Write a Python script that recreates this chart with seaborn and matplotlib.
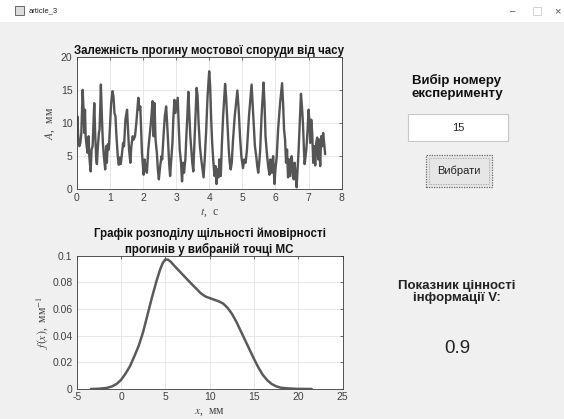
import matplotlib
matplotlib.use("Agg")
import matplotlib.pyplot as plt
import seaborn as sns
import pandas as pd
from matplotlib.patches import Rectangle

# ---- data ----
t_sec = [0.00, 0.02, 0.05, 0.08, 0.11, 0.14, 0.16, 0.18, 0.21, 0.23, 0.25, 0.27, 0.30, 0.33, 0.36, 0.38,
         0.42, 0.45, 0.48, 0.50, 0.53, 0.56, 0.59, 0.61, 0.64, 0.67, 0.69, 0.71, 0.73, 0.76, 0.79, 0.82,
         0.86, 0.89, 0.91, 0.94, 0.97, 1.00, 1.04, 1.08, 1.11, 1.14, 1.17, 1.20, 1.24, 1.27, 1.30, 1.33,
         1.37, 1.40, 1.43, 1.47, 1.52, 1.55, 1.58, 1.62, 1.65, 1.69, 1.72, 1.76, 1.80, 1.86, 1.89, 1.92,
         1.94, 1.97, 2.02, 2.05, 2.08, 2.12, 2.16, 2.20, 2.24, 2.29, 2.32, 2.35, 2.38, 2.42, 2.45, 2.48,
         2.52, 2.56, 2.58, 2.62, 2.66, 2.70, 2.73, 2.76, 2.79, 2.82, 2.86, 2.89, 2.92, 2.95, 2.98, 3.02,
         3.05, 3.08, 3.11, 3.15, 3.18, 3.21, 3.24, 3.28, 3.31, 3.34, 3.37, 3.40, 3.43, 3.46, 3.49, 3.52,
         3.55, 3.58, 3.62, 3.65, 3.68, 3.72, 3.76, 3.80, 3.83, 3.87, 3.91, 3.95, 4.00, 4.03, 4.06, 4.09,
         4.12, 4.16, 4.19, 4.22, 4.25, 4.28, 4.31, 4.35, 4.38, 4.42, 4.48, 4.51, 4.55, 4.59, 4.62, 4.65,
         4.68, 4.72, 4.77, 4.85, 4.89, 4.93, 4.97, 5.02, 5.06, 5.10, 5.14, 5.20, 5.28, 5.31, 5.35, 5.38,
         5.42, 5.45, 5.48, 5.51, 5.54, 5.58, 5.64, 5.67, 5.70, 5.74, 5.78, 5.82, 5.85, 5.89, 5.93, 5.97,
         6.00, 6.04, 6.08, 6.14, 6.20, 6.23, 6.26, 6.29, 6.32, 6.35, 6.38, 6.41, 6.45, 6.49, 6.52, 6.55,
         6.58, 6.61, 6.64, 6.67, 6.70, 6.74, 6.77, 6.80, 6.83, 6.86, 6.88, 6.91, 6.94, 6.97, 7.00, 7.03,
         7.05, 7.08, 7.11, 7.14, 7.17, 7.20, 7.23, 7.26, 7.29, 7.32, 7.35, 7.38, 7.41, 7.44, 7.47, 7.50]
deflection_mm = [8.5, 11.0, 7.5, 6.5, 7.0, 8.5, 12.0, 15.0, 11.5, 8.5, 12.0, 8.0, 6.5, 5.5, 8.0, 5.0,
                 2.7, 6.0, 6.5, 9.0, 13.0, 8.0, 4.5, 3.8, 6.5, 8.5, 9.0, 12.0, 15.8, 11.0, 7.0, 5.0,
                 3.0, 6.5, 4.0, 6.8, 6.0, 9.0, 13.0, 14.8, 14.0, 11.5, 11.0, 8.0, 5.0, 3.7, 4.8, 3.8,
                 5.5, 7.0, 6.5, 10.5, 12.0, 9.0, 6.0, 4.0, 6.5, 8.0, 7.5, 8.0, 10.0, 13.8, 12.0, 12.5,
                 9.5, 5.5, 2.2, 4.5, 3.0, 2.5, 6.0, 8.0, 10.0, 13.3, 8.0, 13.0, 7.5, 5.5, 3.0, 1.5,
                 3.5, 5.0, 4.5, 8.0, 11.0, 12.5, 10.0, 7.0, 4.0, 2.0, 5.0, 7.0, 11.0, 13.5, 11.5, 12.8,
                 13.8, 9.5, 6.0, 4.0, 1.2, 4.0, 2.5, 4.5, 8.0, 11.0, 14.7, 11.5, 8.0, 6.0, 4.0, 2.7,
                 6.5, 10.5, 15.3, 14.0, 10.0, 6.5, 4.5, 3.0, 1.8, 5.0, 9.0, 14.0, 17.8, 15.5, 10.5, 7.0,
                 4.5, 2.0, 3.5, 0.8, 3.0, 1.8, 4.5, 2.0, 6.5, 11.0, 15.9, 14.0, 10.0, 6.0, 4.0, 3.0,
                 4.0, 7.5, 11.0, 14.9, 12.0, 8.0, 5.0, 3.2, 4.5, 4.0, 6.0, 11.0, 15.8, 13.0, 9.0, 6.5,
                 5.0, 3.5, 2.5, 4.0, 6.0, 11.0, 16.1, 13.0, 8.0, 5.5, 3.5, 2.2, 4.5, 2.5, 5.0, 0.8,
                 3.0, 5.0, 9.0, 13.0, 16.0, 13.0, 9.0, 7.5, 4.0, 6.0, 1.8, 4.5, 2.0, 5.0, 3.0, 1.5,
                 4.0, 2.0, 0.3, 3.0, 6.0, 11.0, 14.4, 12.5, 10.0, 6.0, 3.8, 5.0, 6.5, 9.0, 12.0, 10.0,
                 7.0, 10.5, 8.5, 4.0, 6.5, 3.6, 7.0, 7.8, 4.5, 7.5, 3.5, 8.0, 6.5, 8.5, 7.0, 5.3]

x_mm = [-3.4, -2.5, -1.6, -1.0, -0.5, 0.0, 0.5, 1.0, 1.5, 2.0, 2.5, 3.0, 3.5, 4.0, 4.4, 4.7,
        5.0, 5.3, 5.6, 6.0, 6.5, 7.0, 7.5, 8.0, 8.5, 9.0, 9.5, 10.0, 10.5, 11.0, 11.5, 12.0,
        12.5, 13.0, 13.5, 14.0, 14.5, 15.0, 15.5, 16.0, 16.5, 17.0, 17.5, 18.0, 18.7, 19.8, 21.5]
fx = [0.0, 0.0002, 0.0008, 0.002, 0.0038, 0.0068, 0.0115, 0.017, 0.0245, 0.0325, 0.043, 0.056,
      0.069, 0.081, 0.0895, 0.0945, 0.0972, 0.0970, 0.0955, 0.0925, 0.089, 0.0855, 0.082, 0.0785,
      0.0752, 0.0718, 0.0695, 0.0682, 0.0670, 0.0658, 0.0642, 0.0610, 0.0565, 0.0505, 0.0435,
      0.0365, 0.0295, 0.0225, 0.0160, 0.0105, 0.0065, 0.0037, 0.0020, 0.0010, 0.0005, 0.0001, 0.0]

x_ticks_top = [0, 1, 2, 3, 4, 5, 6, 7, 8]
y_ticks_top = [0, 5, 10, 15, 20]
x_ticks_bot = [-5, 0, 5, 10, 15, 20, 25]
y_ticks_bot = [0, 0.02, 0.04, 0.06, 0.08, 0.1]
y_tick_labels_bot = ["0", "0.02", "0.04", "0.06", "0.08", "0.1"]

title_top = "Залежність прогину мостової споруди від часу"
title_bot = "Графік розподілу щільності ймовірності\nпрогинів у вибраній точці МС"
experiment_number = "15"
value_V = "0.9"

# ---- style ----
sns.set_style("white")
plt.rcParams['font.family'] = ['Liberation Sans', 'DejaVu Sans']
plt.rcParams['mathtext.fontset'] = 'stix'
plt.rcParams['axes.unicode_minus'] = False

W, H = 564, 419
fig = plt.figure(figsize=(W / 100, H / 100), dpi=100)
fig.patch.set_facecolor('#f0f0f0')

def fx_(px):
    return px / W

def fy_(py):
    return 1 - py / H

# title bar
fig.patches.append(Rectangle((0, fy_(22)), 1, 22 / H, transform=fig.transFigure,
                             facecolor='white', edgecolor='none', zorder=0))
fig.patches.append(Rectangle((fx_(15), fy_(15)), 9 / W, 9 / H, transform=fig.transFigure,
                             facecolor='#dcdcdc', edgecolor='#555555', lw=0.6))
fig.text(fx_(29), fy_(11), "article_3", fontsize=5.5, va='center', ha='left', color='#222222')
fig.text(fx_(513), fy_(11), "–", fontsize=7, va='center', ha='center', color='#555555')
fig.patches.append(Rectangle((fx_(533), fy_(15)), 8 / W, 8 / H, transform=fig.transFigure,
                             facecolor='none', edgecolor='#cccccc', lw=0.6))
fig.text(fx_(557), fy_(11), "×", fontsize=8, va='center', ha='center', color='#555555')

def style_axes(ax):
    ax.set_facecolor('white')
    ax.grid(True, color='#e3e3e3', lw=0.6)
    ax.set_axisbelow(True)
    for s in ax.spines.values():
        s.set_color('#3a3a3a')
        s.set_linewidth(0.6)
        s.set_visible(True)
    ax.tick_params(direction='in', length=2.5, width=0.5, colors='#3a3a3a',
                   labelsize=7.5, labelcolor='#404040', top=True, right=True)
    ax.tick_params(axis='y', pad=3)
    ax.tick_params(axis='x', pad=2.5)

# ---- top axes ----
ax1 = fig.add_axes([fx_(76.7), fy_(189.3), (341.7 - 76.7) / W, (189.3 - 56.7) / H])
df1 = pd.DataFrame({"t": t_sec, "A": deflection_mm})
sns.lineplot(data=df1, x="t", y="A", ax=ax1, color='#555555', lw=1.7)
ax1.set_xlim(0, 8)
ax1.set_ylim(0, 20)
ax1.set_xticks(x_ticks_top)
ax1.set_yticks(y_ticks_top)
style_axes(ax1)
ax1.set_xlabel("$t$,  с", fontsize=8.5, family='Liberation Serif', color='#444444', labelpad=2.5)
ax1.set_ylabel("$A$,  мм", fontsize=8.5, family='Liberation Serif', color='#444444', labelpad=3)
ax1.set_title(title_top, fontsize=8.3, fontweight='bold', color='#111111', pad=2)

# ---- bottom axes ----
ax2 = fig.add_axes([fx_(76.7), fy_(389), (342.7 - 76.7) / W, (389 - 255.7) / H])
df2 = pd.DataFrame({"x": x_mm, "f": fx})
sns.lineplot(data=df2, x="x", y="f", ax=ax2, color='#5a5a5a', lw=1.8)
ax2.set_xlim(-5, 25)
ax2.set_ylim(0, 0.1)
ax2.set_xticks(x_ticks_bot)
ax2.set_yticks(y_ticks_bot)
ax2.set_yticklabels(y_tick_labels_bot)
style_axes(ax2)
ax2.set_xlabel("$x$,  мм", fontsize=8.5, family='Liberation Serif', color='#444444', labelpad=2.5)
ax2.set_ylabel("$f(x)$,  мм$^{-1}$", fontsize=8.5, family='Liberation Serif', color='#444444', labelpad=2)
ax2.set_title(title_bot, fontsize=8.3, fontweight='bold', color='#111111', pad=2, linespacing=1.25)

# ---- right panel ----
fig.text(fx_(457), fy_(87), "Вибір номеру\nексперименту", fontsize=9.5, fontweight='bold',
         ha='center', va='center', color='#111111', linespacing=1.1)
fig.patches.append(Rectangle((fx_(408), fy_(141)), 100 / W, 27 / H, transform=fig.transFigure,
                             facecolor='white', edgecolor='#c8c8c8', lw=0.8))
fig.text(fx_(458), fy_(128), experiment_number, fontsize=8, ha='center', va='center', color='#222222')
fig.patches.append(Rectangle((fx_(426), fy_(187)), 66 / W, 32 / H, transform=fig.transFigure,
                             facecolor='#e6e6e6', edgecolor='#6a6a6a', lw=0.9, linestyle=(0, (1, 1))))
fig.patches.append(Rectangle((fx_(429), fy_(184)), 60 / W, 26 / H, transform=fig.transFigure,
                             facecolor='none', edgecolor='#9a9a9a', lw=0.6, linestyle=(0, (1, 1))))
fig.text(fx_(459), fy_(171), "Вибрати", fontsize=8, ha='center', va='center', color='#222222')

fig.text(fx_(457), fy_(292), "Показник цінності\nінформації V:", fontsize=9.5, fontweight='bold',
         ha='center', va='center', color='#222222', linespacing=1.1)
fig.text(fx_(457), fy_(348), value_V, fontsize=13.5, ha='center', va='center', color='#222222')

fig.savefig("out.png", dpi=100, facecolor=fig.get_facecolor())
